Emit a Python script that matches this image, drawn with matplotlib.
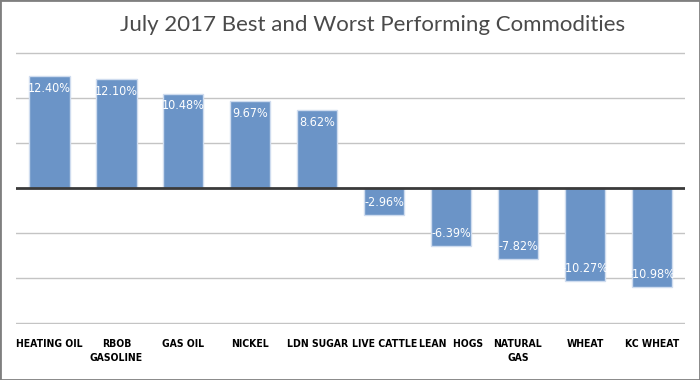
import matplotlib
matplotlib.use("Agg")
import matplotlib.pyplot as plt
import numpy as np

commodities = ["HEATING OIL", "RBOB\nGASOLINE", "GAS OIL", "NICKEL", "LDN SUGAR",
               "LIVE CATTLE", "LEAN  HOGS", "NATURAL\nGAS", "WHEAT", "KC WHEAT"]
returns = [12.40, 12.10, 10.48, 9.67, 8.62, -2.96, -6.39, -7.82, -10.27, -10.98]

fig = plt.figure(figsize=(7, 3.8), dpi=100)
ax = fig.add_axes([0.023, 0.147, 0.956, 0.716])

x = np.arange(len(returns))
ax.bar(x, returns, width=0.6, color="#6b94c7", edgecolor="#cfdcef", linewidth=1, zorder=2)

for xi, v in zip(x, returns):
    off = -1.35 if v > 0 else 1.35
    ax.text(xi, v + off, f"{v:.2f}%", ha="center", va="center", color="white",
            fontsize=9, family="DejaVu Sans", stretch="condensed", zorder=3)

ax.set_xlim(-0.5, len(returns) - 0.5)
ax.set_ylim(-15.1, 15.1)
ax.set_yticks([-15, -10, -5, 5, 10, 15])
ax.yaxis.grid(True, color="#c4c4c4", linewidth=1)
ax.set_axisbelow(True)
ax.axhline(0, color="#3a3a3a", linewidth=2, zorder=4)
ax.tick_params(left=False, bottom=False, labelleft=False)
for s in ax.spines.values():
    s.set_visible(False)

ax.set_xticks(x)
ax.set_xticklabels(commodities, fontsize=7.5, fontweight="bold",
                   family="DejaVu Sans", stretch="condensed", linespacing=1.5)
ax.tick_params(axis="x", pad=7)

fig.text(0.532, 0.935, "July 2017 Best and Worst Performing Commodities",
         ha="center", va="center", fontsize=16, color="#4a4a4a",
         family=["Lato", "DejaVu Sans"])

fig.patches.append(plt.Rectangle((0, 0), 1, 1, transform=fig.transFigure,
                                 fill=False, edgecolor="#7f7f7f", linewidth=2))

fig.savefig("out.png", dpi=100)
